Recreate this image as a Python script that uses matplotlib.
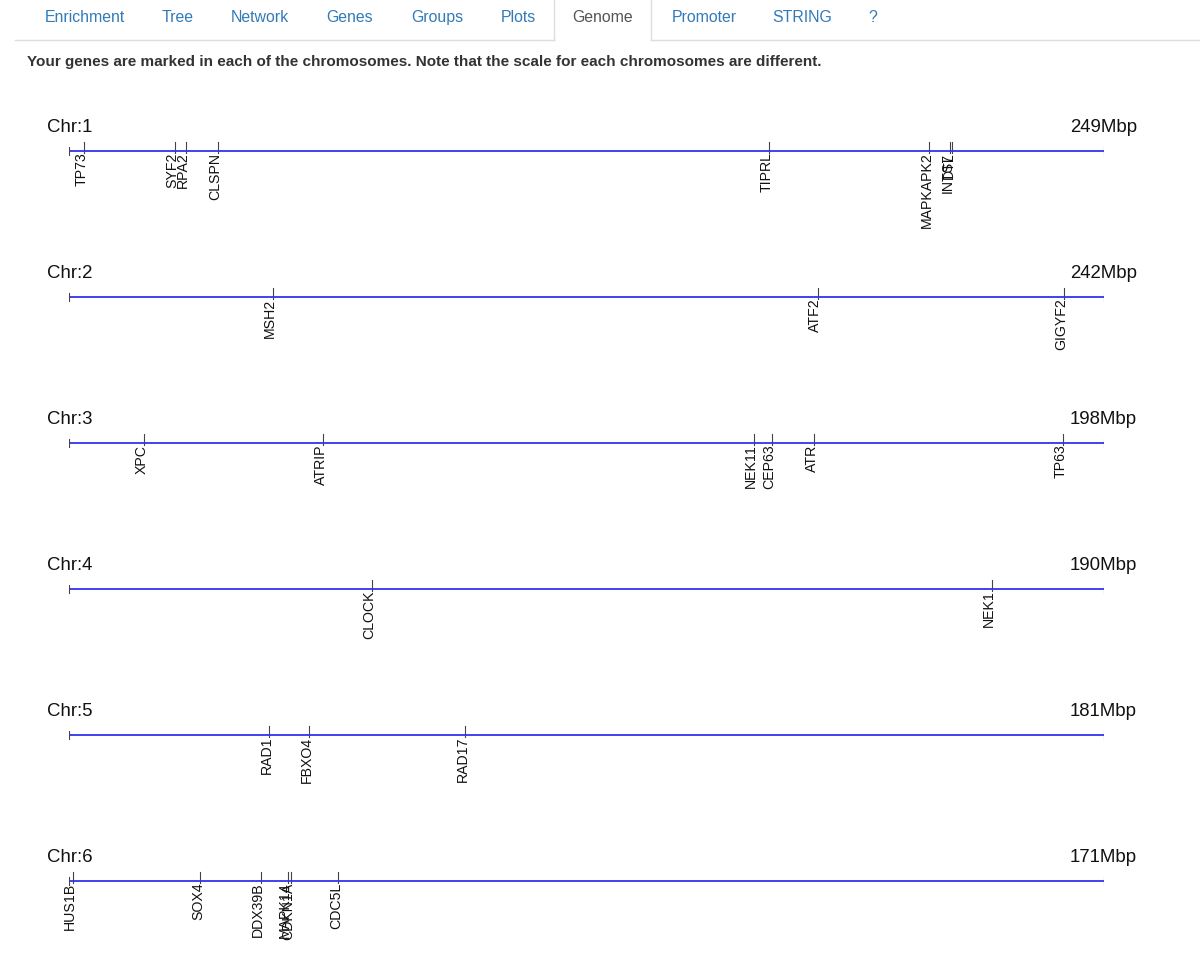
import matplotlib
matplotlib.use('Agg')
import matplotlib.pyplot as plt
import matplotlib.transforms as mtransforms

plt.rcParams['font.family'] = ['Liberation Sans', 'DejaVu Sans']

# tab bar of the page
tab_names = ['Enrichment', 'Tree', 'Network', 'Genes', 'Groups', 'Plots',
             'Genome', 'Promoter', 'STRING', '?']
active_tab = 'Genome'

header = ('Your genes are marked in each of the chromosomes. '
          'Note that the scale for each chromosomes are different.')

# chromosomes and their length (Mbp)
chrom_names = ['1', '2', '3', '4', '5', '6']
chrom_sizes = [249, 242, 198, 190, 181, 171]

# genes per chromosome, positions in Mbp
chr1_genes = ['TP73', 'SYF2', 'RPA2', 'CLSPN', 'TIPRL', 'MAPKAPK2', 'INTS7', 'DTL']
chr1_pos = [3.6, 25.5, 28.1, 35.8, 168.4, 206.9, 212.0, 212.4]
chr2_genes = ['MSH2', 'ATF2', 'GIGYF2']
chr2_pos = [47.6, 175.1, 232.6]
chr3_genes = ['XPC', 'ATRIP', 'NEK11', 'CEP63', 'ATR', 'TP63']
chr3_pos = [14.3, 48.6, 131.0, 134.4, 142.6, 190.1]
chr4_genes = ['CLOCK', 'NEK1']
chr4_pos = [55.6, 169.4]
chr5_genes = ['RAD1', 'FBXO4', 'RAD17']
chr5_pos = [35.0, 42.0, 69.3]
chr6_genes = ['HUS1B', 'SOX4', 'DDX39B', 'MAPK14', 'CDKN1A', 'CDC5L']
chr6_pos = [0.6, 21.7, 31.7, 36.1, 36.7, 44.5]

all_genes = [chr1_genes, chr2_genes, chr3_genes, chr4_genes, chr5_genes, chr6_genes]
all_pos = [chr1_pos, chr2_pos, chr3_pos, chr4_pos, chr5_pos, chr6_pos]

W, H = 1200, 968
fig = plt.figure(figsize=(W / 100, H / 100), dpi=100)
bg = fig.add_axes([0, 0, 1, 1])
bg.set_xlim(0, W)
bg.set_ylim(H, 0)
bg.axis('off')

# tabs
tab_x = [85, 178, 260, 350, 437, 518, 603, 704, 802, 873]
act_l, act_r = 553.5, 650.5
bg.plot([15, act_l], [39.5, 39.5], color='#dddddd', lw=1)
bg.plot([act_r, W], [39.5, 39.5], color='#dddddd', lw=1)
bg.plot([act_l, act_l], [0, 39.5], color='#dddddd', lw=1)
bg.plot([act_r, act_r], [0, 39.5], color='#dddddd', lw=1)
for name, x in zip(tab_names, tab_x):
    col = '#555555' if name == active_tab else '#337ab7'
    bg.text(x, 22, name, ha='center', va='baseline', fontsize=11.4, color=col)

bg.text(27, 66, header, ha='left', va='baseline', fontsize=11.0,
        fontweight='bold', color='#333333')

# chromosome tracks
line_left, line_right = 69, 1104
first_line, step = 151, 146
for i, (cname, size) in enumerate(zip(chrom_names, chrom_sizes)):
    ly = first_line + i * step
    top, bottom = ly - 40, ly + 90
    ax = fig.add_axes([line_left / W, 1 - bottom / H,
                       (line_right - line_left) / W, (bottom - top) / H])
    ax.set_xlim(0, size)
    ax.set_ylim(90, -40)
    ax.axis('off')

    ax.plot([0, size], [0, 0], color='#3333ee', lw=1.3, solid_capstyle='butt',
            zorder=2)
    ax.plot([0, 0], [-4, 4], color='#444444', lw=0.8)
    ax.plot([size, size], [-4, 4], color='#444444', lw=0.8)

    shift = mtransforms.ScaledTranslation(-2.5 / 100, 0, fig.dpi_scale_trans)
    for g, p in zip(all_genes[i], all_pos[i]):
        ax.plot([p, p], [-9, 2], color='#444444', lw=0.8, zorder=1)
        ax.text(p, 1.5, g, rotation=90, ha='center', va='top', fontsize=10.2,
                color='#111111', transform=ax.transData + shift)

    bg.text(47, ly - 19, 'Chr:' + cname, ha='left', va='baseline',
            fontsize=13.4, color='#111111')
    bg.text(1137, ly - 19, '%dMbp' % size, ha='right', va='baseline',
            fontsize=13.4, color='#111111')

fig.savefig('out.png', dpi=100, facecolor='white')
